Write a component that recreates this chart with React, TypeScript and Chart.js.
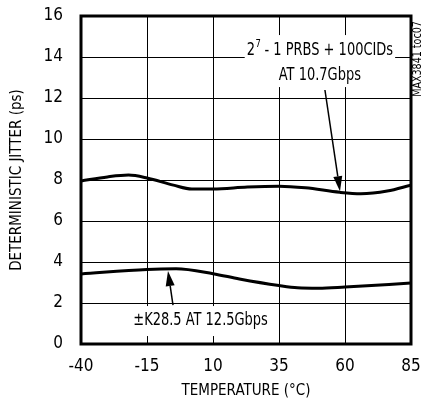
import React, { useEffect, useRef } from 'react';
import { Chart, registerables } from 'chart.js';
Chart.register(...registerables);

// Temperature (°C) and deterministic jitter (ps)
const temps107 = [-40, -30, -22, -15, -5, 2, 10, 23, 35, 45, 58, 66, 76, 85];
const jitter107 = [7.95, 8.15, 8.24, 8.1, 7.75, 7.56, 7.56, 7.66, 7.7, 7.62, 7.4, 7.33, 7.46, 7.75];
const temps125 = [-40, -15, -4, 10, 20, 35, 42, 50, 60, 85];
const jitter125 = [3.42, 3.64, 3.67, 3.43, 3.17, 2.85, 2.74, 2.72, 2.78, 2.97];
const xTicks = [-40, -15, 10, 35, 60, 85];
const yMin = 0;
const yMax = 16;
const yStep = 2;

const xTitle = 'TEMPERATURE (°C)';
const yTitle = 'DETERMINISTIC JITTER (ps)';
const note1Base = '2';
const note1Sup = '7';
const note1Rest = ' - 1 PRBS + 100CIDs';
const note1Line2 = 'AT 10.7Gbps';
const note2Text = '±K28.5 AT 12.5Gbps';
const tocText = 'MAX3841 toc07';

// annotation anchors in data units
const note1Pos = { x: 50.5, y1: 14.29, y2: 13.07 };
const arrow1 = { fromX: 52.4, fromY: 12.39, toX: 58.1, toY: 7.45 };
const note2Pos = { x: 5.3, y: 1.12 };
const arrow2 = { fromX: -5.15, fromY: 1.9, toX: -7.05, toY: 3.56 };

const FONT = "'Liberation Sans Narrow', 'DejaVu Sans Condensed', 'Arial Narrow', sans-serif";
const SQUEEZE = 0.85;

function drawArrow(ctx: CanvasRenderingContext2D, x1: number, y1: number, x2: number, y2: number) {
  const ang = Math.atan2(y2 - y1, x2 - x1);
  const len = 15;
  const hw = 4.5;
  const bx = x2 - Math.cos(ang) * len;
  const by = y2 - Math.sin(ang) * len;
  ctx.save();
  ctx.strokeStyle = '#000';
  ctx.fillStyle = '#000';
  ctx.lineWidth = 1.5;
  ctx.beginPath();
  ctx.moveTo(x1, y1);
  ctx.lineTo(bx, by);
  ctx.stroke();
  ctx.beginPath();
  ctx.moveTo(x2, y2);
  ctx.lineTo(bx + Math.sin(ang) * hw, by - Math.cos(ang) * hw);
  ctx.lineTo(bx - Math.sin(ang) * hw, by + Math.cos(ang) * hw);
  ctx.closePath();
  ctx.fill();
  ctx.restore();
}

function squeezedText(ctx: CanvasRenderingContext2D, text: string, x: number, y: number) {
  ctx.save();
  ctx.translate(x, y);
  ctx.scale(SQUEEZE, 1);
  ctx.fillText(text, 0, 0);
  ctx.restore();
}

const notesPlugin = {
  id: 'notes',
  afterDatasetsDraw(chart: any) {
    const ctx: CanvasRenderingContext2D = chart.ctx;
    const xs = chart.scales.x;
    const ys = chart.scales.y;
    ctx.save();
    const fs = 17;
    const big = `${fs}px ${FONT}`;
    const small = `11px ${FONT}`;
    ctx.textBaseline = 'middle';
    ctx.textAlign = 'left';
    // note 1
    const cx1 = xs.getPixelForValue(note1Pos.x);
    const l1y = ys.getPixelForValue(note1Pos.y1);
    const l2y = ys.getPixelForValue(note1Pos.y2);
    ctx.font = big;
    const wB = ctx.measureText(note1Base).width * SQUEEZE;
    const wR = ctx.measureText(note1Rest).width * SQUEEZE;
    const w2 = ctx.measureText(note1Line2).width * SQUEEZE;
    ctx.font = small;
    const wS = ctx.measureText(note1Sup).width * SQUEEZE;
    const w1 = wB + wS + wR;
    const bw1 = Math.max(w1, w2) + 4;
    ctx.fillStyle = '#fff';
    ctx.fillRect(cx1 - bw1 / 2, l1y - 16, bw1, l2y - l1y + 27);
    ctx.fillStyle = '#000';
    let sx = cx1 - w1 / 2;
    ctx.font = big;
    squeezedText(ctx, note1Base, sx, l1y);
    sx += wB;
    ctx.font = small;
    squeezedText(ctx, note1Sup, sx + 0.5, l1y - 7);
    sx += wS;
    ctx.font = big;
    squeezedText(ctx, note1Rest, sx, l1y);
    squeezedText(ctx, note1Line2, cx1 - w2 / 2, l2y);
    drawArrow(ctx, xs.getPixelForValue(arrow1.fromX), ys.getPixelForValue(arrow1.fromY),
      xs.getPixelForValue(arrow1.toX), ys.getPixelForValue(arrow1.toY));
    // note 2
    const cx2 = xs.getPixelForValue(note2Pos.x);
    const cy2 = ys.getPixelForValue(note2Pos.y);
    ctx.font = big;
    const w3 = ctx.measureText(note2Text).width * SQUEEZE;
    ctx.fillStyle = '#fff';
    ctx.fillRect(cx2 - w3 / 2 - 2, cy2 - 15, w3 + 4, 30);
    ctx.fillStyle = '#000';
    squeezedText(ctx, note2Text, cx2 - w3 / 2, cy2);
    drawArrow(ctx, xs.getPixelForValue(arrow2.fromX), ys.getPixelForValue(arrow2.fromY),
      xs.getPixelForValue(arrow2.toX), ys.getPixelForValue(arrow2.toY));
    ctx.restore();
  },
  afterDraw(chart: any) {
    const ctx: CanvasRenderingContext2D = chart.ctx;
    const a = chart.chartArea;
    ctx.save();
    ctx.strokeStyle = '#000';
    ctx.lineWidth = 3;
    ctx.strokeRect(a.left, a.top, a.right - a.left, a.bottom - a.top);
    // side note
    ctx.translate(chart.width - 3, a.top + 43);
    ctx.rotate(-Math.PI / 2);
    ctx.font = `12.5px ${FONT}`;
    ctx.fillStyle = '#000';
    ctx.textAlign = 'center';
    ctx.textBaseline = 'middle';
    ctx.scale(SQUEEZE, 1);
    ctx.fillText(tocText, 0, 0);
    ctx.restore();
  },
};

export default function App() {
  const ref = useRef<HTMLCanvasElement>(null);
  useEffect(() => {
    document.body.style.margin = '0';
    const canvas = ref.current!;
    const chart = new Chart(canvas, {
      type: 'line',
      data: {
        datasets: [
          {
            data: temps107.map((t, i) => ({ x: t, y: jitter107[i] })),
            borderColor: '#000',
            borderWidth: 3,
            pointRadius: 0,
            cubicInterpolationMode: 'monotone',
            fill: false,
          },
          {
            data: temps125.map((t, i) => ({ x: t, y: jitter125[i] })),
            borderColor: '#000',
            borderWidth: 3,
            pointRadius: 0,
            cubicInterpolationMode: 'monotone',
            fill: false,
          },
        ],
      },
      options: {
        responsive: false,
        animation: false,
        devicePixelRatio: 1,
        layout: { padding: { left: 0, top: 16, right: 10, bottom: 0 } },
        plugins: { legend: { display: false }, tooltip: { enabled: false } },
        scales: {
          x: {
            type: 'linear',
            min: xTicks[0],
            max: xTicks[xTicks.length - 1],
            afterBuildTicks: (s: any) => {
              s.ticks = xTicks.map((v) => ({ value: v }));
            },
            afterFit: (s: any) => {
              s.height = 58;
              s.paddingLeft = 0;
              s.paddingRight = 0;
            },
            border: { display: false },
            grid: { color: '#000', lineWidth: 1, drawTicks: false },
            ticks: {
              color: '#000',
              font: { family: FONT, size: 17 },
              padding: 12,
              maxRotation: 0,
              autoSkip: false,
            },
            title: {
              display: true,
              text: xTitle,
              color: '#000',
              font: { family: FONT, size: 15 },
              padding: { top: 0, bottom: 2 },
            },
          },
          y: {
            type: 'linear',
            min: yMin,
            max: yMax,
            afterFit: (s: any) => {
              s.width = 81;
              s.paddingTop = 0;
              s.paddingBottom = 0;
            },
            border: { display: false },
            grid: { color: '#000', lineWidth: 1, drawTicks: false },
            ticks: {
              stepSize: yStep,
              color: '#000',
              font: { family: FONT, size: 17 },
              padding: 18,
            },
            title: {
              display: true,
              text: yTitle,
              color: '#000',
              font: { family: FONT, size: 15 },
              padding: { top: 8, bottom: 0 },
            },
          },
        },
      },
      plugins: [notesPlugin],
    } as any);
    return () => chart.destroy();
  }, []);
  return <canvas ref={ref} width={421} height={402} style={{ display: 'block' }} />;
}
